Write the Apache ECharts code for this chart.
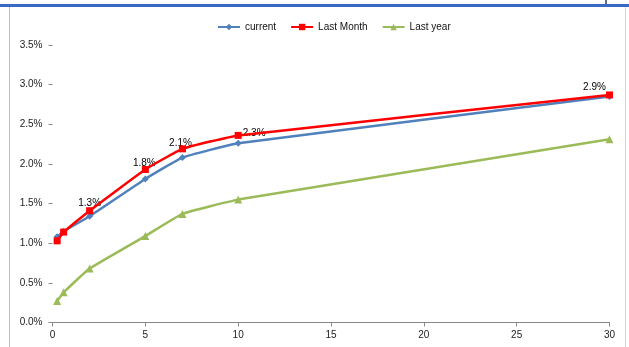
<!DOCTYPE html>
<html>
<head>
<meta charset="utf-8">
<script src="https://cdn.jsdelivr.net/npm/echarts@6/dist/echarts.min.js"></script>
<style>html,body{margin:0;padding:0;background:#fff;}#c{width:629px;height:347px;}</style>
</head>
<body>
<div id="c"></div>
<script>
// Data (x = term in years, y = percent)
var xValues = [0.25, 0.6, 2, 5, 7, 10, 30];
var currentValues = [1.08, 1.15, 1.34, 1.81, 2.08, 2.26, 2.85];
var lastMonthValues = [1.03, 1.14, 1.41, 1.93, 2.19, 2.36, 2.87];
var lastYearValues = [0.27, 0.38, 0.68, 1.09, 1.37, 1.55, 2.31];
var seriesNames = ['current', 'Last Month', 'Last year'];
var xTicks = [0, 5, 10, 15, 20, 25, 30];
var yTicks = [0, 0.5, 1.0, 1.5, 2.0, 2.5, 3.0, 3.5];
var labeledIndex = [2, 3, 4, 5, 6];

// label placement (style only)
var labelOffsets = {2: [0, 0], 3: [-1, -2], 4: [-2, -1], 5: [16, 3], 6: [-15, 4]};

function pairs(vals) {
  return xValues.map(function (x, i) { return [x, vals[i]]; });
}

var currentData = pairs(currentValues).map(function (p, i) {
  var d = {value: p};
  if (labeledIndex.indexOf(i) >= 0) {
    d.label = {show: true, offset: labelOffsets[i]};
  }
  return d;
});

var chart = echarts.init(document.getElementById('c'), null, {renderer: 'canvas'});
var font = 'Arial, "Liberation Sans", sans-serif';
var option = {
  backgroundColor: '#ffffff',
  animation: false,
  textStyle: {fontFamily: font},
  graphic: [
    {type: 'rect', shape: {x: 0, y: 4, width: 629, height: 3}, style: {fill: '#3a68c6'}, silent: true},
    {type: 'line', shape: {x1: 9.5, y1: 7, x2: 9.5, y2: 347}, style: {stroke: '#aac2e4', lineWidth: 1}, silent: true},
    {type: 'line', shape: {x1: 625.5, y1: 7, x2: 625.5, y2: 347}, style: {stroke: '#c6d6ec', lineWidth: 1}, silent: true},
    {type: 'rect', shape: {x: 605, y: 0, width: 2, height: 4}, style: {fill: '#5a6f96'}, silent: true}
  ],
  legend: {
    left: 212,
    top: 17,
    itemWidth: 22,
    itemHeight: 8,
    itemGap: 14,
    textStyle: {fontSize: 10, color: '#111', fontFamily: font},
    data: seriesNames
  },
  grid: {left: 52.5, right: 19.5, top: 45, bottom: 24.5, containLabel: false},
  xAxis: {
    type: 'value',
    min: xTicks[0],
    max: xTicks[xTicks.length - 1],
    interval: 5,
    splitLine: {show: false},
    axisLine: {show: true, lineStyle: {color: '#888', width: 1}},
    axisTick: {show: true, length: 4, lineStyle: {color: '#888'}},
    axisLabel: {fontSize: 10, color: '#222', margin: 8, fontFamily: font}
  },
  yAxis: {
    type: 'value',
    min: yTicks[0],
    max: yTicks[yTicks.length - 1],
    interval: 0.5,
    splitLine: {show: false},
    axisLine: {show: false},
    axisTick: {show: true, length: 4, lineStyle: {color: '#888'}},
    axisLabel: {fontSize: 10, color: '#222', margin: 10, fontFamily: font,
      formatter: function (v) { return v.toFixed(1) + '%'; }}
  },
  series: [
    {
      name: seriesNames[2], type: 'line', data: pairs(lastYearValues), smooth: 0.12,
      symbol: 'triangle', symbolSize: 8,
      itemStyle: {color: '#9bbb59'}, lineStyle: {color: '#9bbb59', width: 2.5}, z: 2
    },
    {
      name: seriesNames[0], type: 'line', data: currentData, smooth: 0.12,
      symbol: 'diamond', symbolSize: 7,
      itemStyle: {color: '#4f81bd'}, lineStyle: {color: '#4f81bd', width: 2.5},
      label: {show: false, position: 'top', distance: 5, fontSize: 10, color: '#000', fontFamily: font,
        formatter: function (p) { return p.value[1].toFixed(1) + '%'; }},
      z: 3
    },
    {
      name: seriesNames[1], type: 'line', data: pairs(lastMonthValues), smooth: 0.12,
      symbol: 'rect', symbolSize: 7,
      itemStyle: {color: '#ff0000'}, lineStyle: {color: '#ff0000', width: 2.5}, z: 4
    }
  ]
};
chart.setOption(option);
</script>
</body>
</html>
